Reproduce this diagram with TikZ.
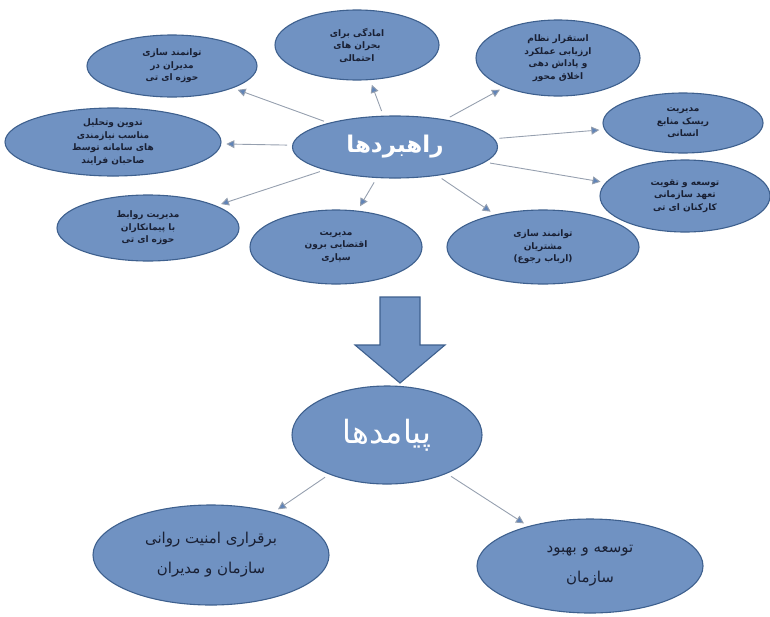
\documentclass[tikz,border=0pt]{standalone}
\usepackage{fontspec}
\usetikzlibrary{shapes.geometric,arrows.meta}
\TeXXeTstate=1
\newfontfamily\arabicfont[Script=Arabic]{DejaVu Sans}
\newcommand\rl[1]{\beginR #1\endR}
\definecolor{nodefill}{RGB}{112,146,194}
\definecolor{nodeline}{RGB}{62,96,142}
\definecolor{conngray}{RGB}{150,160,175}
\definecolor{headblue}{RGB}{96,132,184}
\definecolor{txtdark}{RGB}{25,32,52}
\tikzset{
  el/.style={ellipse, draw=nodeline, line width=1.1pt, fill=nodefill, inner sep=0pt, align=center,
    font=\arabicfont\bfseries\fontsize{9}{12.5}\selectfont, text=txtdark},
  bigel/.style={el, font=\arabicfont\bfseries\fontsize{23}{26}\selectfont, text=white},
  outel/.style={el, font=\arabicfont\fontsize{15}{30}\selectfont, text=txtdark},
  conn/.style={draw=conngray, line width=0.9pt, -{Triangle[length=8pt,width=8pt,fill=headblue]}, shorten <=5pt, shorten >=5pt}
}
\begin{document}
\begin{tikzpicture}[x=1pt,y=-1pt]
\useasboundingbox (0,0) rectangle (770,616);
% central strategy node
\node[bigel, minimum width=205pt, minimum height=62pt] (c) at (395,147) {\rl{راهبردها}};
% surrounding nodes
\node[el, minimum width=170pt, minimum height=62pt] (n1) at (172,66) {\rl{توانمند سازی}\\\rl{مدیران در}\\\rl{حوزه ای تی}};
\node[el, minimum width=164pt, minimum height=70pt] (n2) at (357,45) {\rl{امادگی برای}\\\rl{بحران های}\\\rl{احتمالی}};
\node[el, minimum width=164pt, minimum height=76pt] (n3) at (558,58) {\rl{استقرار نظام}\\\rl{ارزیابی عملکرد}\\\rl{و پاداش دهی}\\\rl{اخلاق محور}};
\node[el, minimum width=160pt, minimum height=60pt] (n4) at (683,123) {\rl{مدیریت}\\\rl{ریسک منابع}\\\rl{انسانی}};
\node[el, minimum width=170pt, minimum height=72pt] (n5) at (685,196) {\rl{توسعه و تقویت}\\\rl{تعهد سازمانی}\\\rl{کارکنان ای تی}};
\node[el, minimum width=192pt, minimum height=74pt] (n6) at (543,247) {\rl{توانمند سازی}\\\rl{مشتریان}\\\rl{(ارباب رجوع)}};
\node[el, minimum width=172pt, minimum height=74pt] (n7) at (336,247) {\rl{مدیریت}\\\rl{اقتضایی برون}\\\rl{سپاری}};
\node[el, minimum width=182pt, minimum height=66pt] (n8) at (148,228) {\rl{مدیریت روابط}\\\rl{با پیمانکاران}\\\rl{حوزه ای تی}};
\node[el, minimum width=216pt, minimum height=68pt] (n9) at (113,142) {\rl{تدوین وتحلیل}\\\rl{مناسب نیازمندی}\\\rl{های سامانه توسط}\\\rl{صاحبان فرایند}};
\foreach \t in {n1,n2,n3,n4,n5,n6,n7,n8,n9} \draw[conn] (c) -- (\t);
% big arrow
\draw[fill=nodefill, draw=nodeline, line width=1.1pt]
  (380,297) -- (420,297) -- (420,345) -- (445,345) -- (400,383) -- (355,345) -- (380,345) -- cycle;
% outcomes
\node[el, font=\arabicfont\fontsize{32}{36}\selectfont, text=white, minimum width=190pt, minimum height=98pt] (p) at (387,435) {\rl{پیامدها}};
\node[outel, minimum width=236pt, minimum height=100pt] (o1) at (211,555) {\rl{برقراری امنیت روانی}\\\rl{سازمان و مدیران}};
\node[outel, minimum width=226pt, minimum height=94pt] (o2) at (590,566) {\rl{توسعه و بهبود}\\\rl{سازمان}};
\draw[conn] (p) -- (o1);
\draw[conn] (p) -- (o2);
\end{tikzpicture}
\end{document}
